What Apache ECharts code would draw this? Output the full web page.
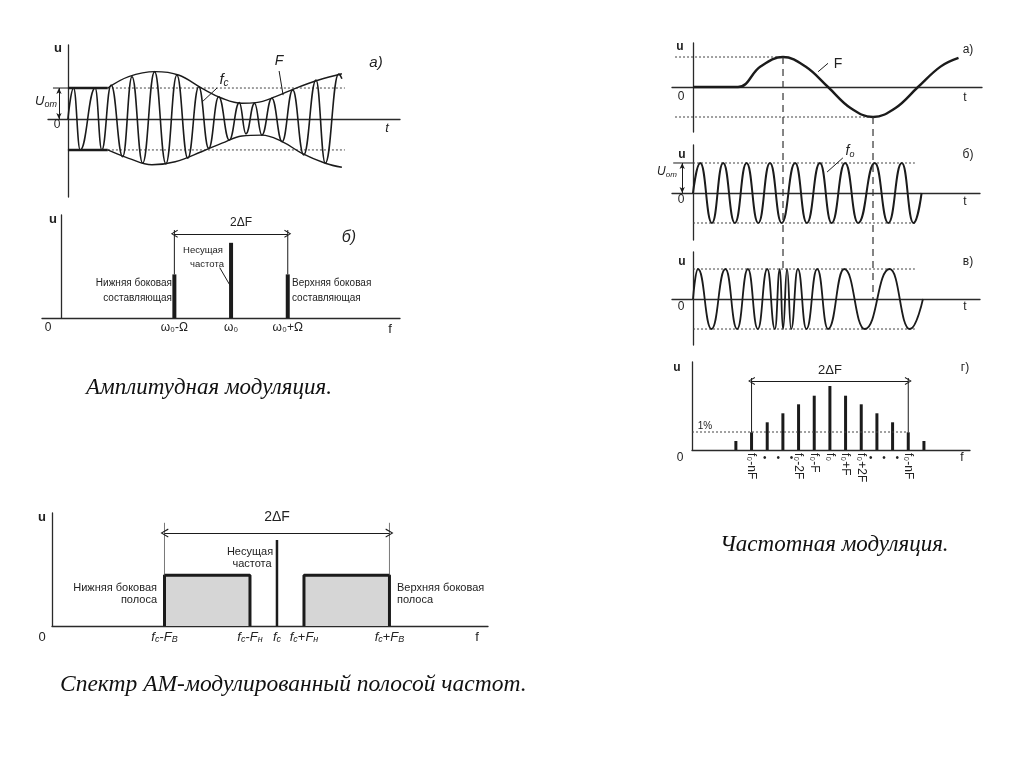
<!DOCTYPE html>
<html><head><meta charset="utf-8">
<script src="https://cdn.jsdelivr.net/npm/echarts@6/dist/echarts.min.js"></script>
<style>html,body{margin:0;padding:0;background:#fff}#c{width:1024px;height:767px}</style>
</head><body><div id="c"></div>
<script>
// ================= DATA =================
// --- Panel "а)" amplitude modulation, time domain: carrier extrema [t, u]
const amCarrier = [[0,0],[0.17,1.0],[0.37,-1.0],[0.82,1.0],[1.02,-1.0],[1.30,1.10],[1.65,-1.22],[1.93,1.37],[2.25,-1.43],[2.61,1.53],[2.95,-1.45],[3.28,1.42],[3.61,-1.27],[3.94,1.04],[4.24,-0.95],[4.54,0.72],[4.86,-0.68],[5.16,0.53],[5.36,-0.48],[5.62,0.51],[5.84,-0.52],[6.14,0.67],[6.45,-0.73],[6.77,0.94],[7.10,-1.16],[7.47,1.26],[7.75,-1.43],[8.15,1.45],[8.25,1.3]];
const amEnvUpper = [[1.2,1.0],[1.83,1.37],[2.63,1.53],[3.33,1.42],[4.04,0.99],[4.64,0.67],[5.24,0.51],[5.66,0.53],[6.25,0.72],[6.85,0.99],[7.55,1.26],[8.25,1.46]];
const amEnvLower = [[1.2,-1.0],[1.83,-1.27],[2.53,-1.48],[3.23,-1.38],[4.04,-1.05],[4.64,-0.78],[5.24,-0.55],[5.84,-0.52],[6.45,-0.73],[7.05,-1.11],[7.75,-1.43],[8.25,-1.56]];
const amModStart = 1.2;      // t where modulation begins
const amUom = 1.0;           // unmodulated amplitude
const amRefEnd = 8.34;       // end of dotted reference lines

// --- Panel "б)" AM spectrum
const amSpecFreq = [2, 3, 4];
const amSpecLabels = ['ω₀-Ω', 'ω₀', 'ω₀+Ω'];
const amSpecAmp = [0.58, 1.0, 0.58];
const amSpecGuideTop = 1.17, amSpecArrowLevel = 1.12;

// --- Band spectrum
const bandFc = 10, bandFB = 5, bandFn = 1.2;
const bandLevel = 0.59, bandCarrier = 1.0;
const bandGuideTop = 1.2, bandArrowLevel = 1.08;
const bandTickLabels = ['{i|f}{s|c}-{i|F}{s|B}', '{i|f}{s|c}-{i|F}{s|н}', '{i|f}{s|c}', '{i|f}{s|c}+{i|F}{s|н}', '{i|f}{s|c}+{i|F}{s|B}'];

// --- FM panel "а)": modulating signal F [t, u]
const fmMod = [[0,0],[1,0],[1.5,0.68],[2,1],[2.5,0.68],[3,0],[3.5,-0.7],[4,-1],[4.5,-0.7],[5,0],[5.5,0.68],[5.9,0.97]];
// --- FM panel "б)": carrier f0 extrema
const fmCarrier = [[0,0],[0.16,1],[0.42,-1],[0.67,1],[0.93,-1],[1.19,1],[1.45,-1],[1.71,1],[1.97,-1],[2.27,1],[2.53,-1],[2.82,1],[3.08,-1],[3.38,1],[3.67,-1],[4.04,1],[4.34,-1],[4.64,1],[4.90,-1],[5.08,0]];
// --- FM panel "в)": frequency-modulated signal extrema
const fmSignal = [[0,0],[0.11,1],[0.41,-1],[0.72,1],[0.98,-1],[1.22,1],[1.44,-1],[1.65,1],[1.82,-1],[1.93,1],[2.0,-1],[2.09,1],[2.18,-1],[2.33,1],[2.52,-1],[2.76,1],[3.0,-1],[3.36,1],[3.82,-1],[4.37,1],[4.82,-1],[5.11,0]];
const fmRefEnd = 4.93;
const fmDashLinks = [{t: 2, fromU: 1, toU: 1}, {t: 4, fromU: -1, toU: 0}];

// --- FM panel "г)": spectrum
const fmF0 = 8.8, fmF = 1;
const fmSpecOrders = [-6,-5,-4,-3,-2,-1,0,1,2,3,4,5,6];
const fmSpecAmp = [0.9,1.77,2.77,3.67,4.57,5.43,6.4,5.43,4.57,3.67,2.77,1.77,0.9];
const fmSpecTickOrders = [-5,-2,-1,0,1,2,5];
const fmSpecTickLabels = ['f₀-nF','f₀-2F','f₀-F','f₀','f₀+F','f₀+2F','f₀-nF'];
const fmSpecDotOrders = [-4.15,-3.3,-2.45,2.6,3.45,4.3];
const fmOnePercent = 1.8, fmGuideTop = 7.2, fmArrowLevel = 6.9;

// ================= CHART =================
const C = '#1b1b1b';
const AX = '#2a2a2a';
const SANS = '"Liberation Sans", Arial, "DejaVu Sans", sans-serif';
const SERIF = '"Liberation Serif", "DejaVu Serif", serif';
const arrowHead = 'path://M0,10 L5,0 L10,10 L8.8,10.6 L5,2.6 L1.2,10.6 Z';

const grids = [
  {left:48, top:45, width:352, height:152},   // 0 AM time
  {left:42, top:215, width:358, height:103},  // 1 AM spectrum
  {left:52, top:513, width:436, height:113},  // 2 band spectrum
  {left:672, top:43, width:310, height:89},   // 3 FM a
  {left:672, top:145, width:308, height:95},  // 4 FM б
  {left:672, top:252, width:308, height:93},  // 5 FM в
  {left:692, top:362, width:278, height:88}   // 6 FM г
];
const xr = [[-0.6,10.0],[-0.335,5.98],[0,19.38],[-0.467,6.422],[-0.467,6.378],[-0.467,6.378],[0,17.74]];
const yr = [[-2.52,2.39],[0,1.37],[0,1.314],[-1.5,1.467],[-1.567,1.6],[-1.533,1.567],[0,8.8]];

function baseAxis(gi, r) {
  return {gridIndex: gi, type: 'value', min: r[0], max: r[1],
    axisLine: {show: true, onZero: true, lineStyle: {color: AX, width: 1.3}},
    axisTick: {show: false}, axisLabel: {show: false}, splitLine: {show: false}};
}
const xAxes = xr.map((r, i) => baseAxis(i, r));
const yAxes = yr.map((r, i) => baseAxis(i, r));

function nearestIdx(arr, v) { let k = 0, d = 1e9; arr.forEach((t, i) => { if (Math.abs(t - v) < d) { d = Math.abs(t - v); k = i; } }); return k; }

// custom tick labels
xAxes[1].axisLabel = {show: true, customValues: amSpecFreq, margin: 4, color: '#222', fontFamily: SANS, fontSize: 12,
  formatter: v => amSpecLabels[nearestIdx(amSpecFreq, v)]};
const bandTickValues = [bandFc - bandFB, bandFc - bandFn, bandFc, bandFc + bandFn, bandFc + bandFB];
xAxes[2].axisLabel = {show: true, customValues: bandTickValues, margin: 4, color: '#222',
  formatter: v => bandTickLabels[nearestIdx(bandTickValues, v)],
  rich: {i: {fontFamily: SANS, fontStyle: 'italic', fontSize: 13, color: '#222'}, s: {fontFamily: SANS, fontStyle: 'italic', fontSize: 9, color: '#222', verticalAlign: 'bottom', padding: [5, 0, 0, 0]}},
  fontFamily: SANS, fontSize: 13};
const fmTickValues = fmSpecTickOrders.map(k => fmF0 + k * fmF);
xAxes[6].axisLabel = {show: true, customValues: fmTickValues, rotate: -90, margin: 3, color: '#222', fontFamily: SANS, fontSize: 12,
  hideOverlap: false, showMinLabel: true, showMaxLabel: true,
  formatter: v => fmSpecTickLabels[nearestIdx(fmTickValues, v)]};
// extra x axis on the FM spectrum grid carrying the "• • •" placeholders
const fmDotValues = fmSpecDotOrders.map(k => fmF0 + k * fmF);
xAxes.push({gridIndex: 6, type: 'value', min: xr[6][0], max: xr[6][1], position: 'bottom',
  axisLine: {show: false, onZero: false}, axisTick: {show: false}, splitLine: {show: false},
  axisLabel: {show: true, customValues: fmDotValues, margin: 3, color: '#222', fontSize: 10, fontFamily: SANS,
    hideOverlap: false, formatter: () => '•'}});

function line(gi, data, o) {
  o = o || {};
  return Object.assign({type: 'line', xAxisIndex: gi, yAxisIndex: gi, data: data, symbol: 'none', silent: true,
    clip: false, lineStyle: Object.assign({color: C, width: 1}, o.ls || {})}, o.extra || {});
}
function dbl(gi, a, b, sym, size, w) {
  return {label: {show: false}, symbol: [sym, sym], symbolSize: size, lineStyle: {color: C, width: w || 1, type: 'solid'},
    data: [[{coord: a}, {coord: b}]]};
}
const dotted = {color: '#444', width: 1, type: [2, 2]};
const series = [];

// ---- Panel 0: AM time domain
series.push(line(0, [[0, amUom], [amRefEnd, amUom]], {ls: dotted}));
series.push(line(0, [[0, -amUom], [amRefEnd, -amUom]], {ls: dotted}));
series.push(line(0, [[0, amUom], [amModStart, amUom]], {ls: {width: 2.6}}));
series.push(line(0, [[0, -amUom], [amModStart, -amUom]], {ls: {width: 2.6}}));
series.push(line(0, amEnvUpper, {ls: {width: 1.4}, extra: {smooth: 0.4}}));
series.push(line(0, amEnvLower, {ls: {width: 1.4}, extra: {smooth: 0.4}}));
series.push(line(0, amCarrier, {ls: {width: 1.6}, extra: {smooth: 0.45, smoothMonotone: 'x'}}));
series.push(line(0, [[-0.45, amUom], [0, amUom]], {ls: {width: 1}, extra: {markLine: dbl(0, [-0.27, 0], [-0.27, amUom], 'arrow', [4, 6], 1)}}));
series.push(line(0, [[4.07, 0.58], [4.49, 1.0]], {ls: {width: 1}}));
series.push(line(0, [[6.48, 0.77], [6.36, 1.55]], {ls: {width: 1}}));

// ---- Panel 1: AM spectrum
series.push({type: 'bar', xAxisIndex: 1, yAxisIndex: 1, silent: true, barWidth: 4,
  data: amSpecFreq.map((f, i) => [f, amSpecAmp[i]]), itemStyle: {color: C}});
series.push(line(1, [[amSpecFreq[0], amSpecAmp[0]], [amSpecFreq[0], amSpecGuideTop]], {extra: {markLine: dbl(1, [amSpecFreq[0], amSpecArrowLevel], [amSpecFreq[2], amSpecArrowLevel], arrowHead, [8, 7], 1.2)}}));
series.push(line(1, [[amSpecFreq[2], amSpecAmp[2]], [amSpecFreq[2], amSpecGuideTop]]));
series.push(line(1, [[2.80, 0.67], [3.0, 0.41]]));

// ---- Panel 2: band spectrum
const lowBand = [[bandFc - bandFB, 0], [bandFc - bandFB, bandLevel], [bandFc - bandFn, bandLevel], [bandFc - bandFn, 0]];
const upBand = [[bandFc + bandFn, 0], [bandFc + bandFn, bandLevel], [bandFc + bandFB, bandLevel], [bandFc + bandFB, 0]];
series.push(line(2, lowBand, {ls: {width: 3}, extra: {areaStyle: {color: '#d6d6d6', opacity: 1}}}));
series.push(line(2, upBand, {ls: {width: 3}, extra: {areaStyle: {color: '#d6d6d6', opacity: 1}}}));
series.push({type: 'bar', xAxisIndex: 2, yAxisIndex: 2, silent: true, barWidth: 2.5,
  data: [[bandFc, bandCarrier]], itemStyle: {color: C}});
series.push(line(2, [[bandFc - bandFB, bandLevel], [bandFc - bandFB, bandGuideTop]], {ls: {width: 0.8, color: '#555'},
  extra: {markLine: dbl(2, [bandFc - bandFB, bandArrowLevel], [bandFc + bandFB, bandArrowLevel], arrowHead, [9, 8], 1.2)}}));
series.push(line(2, [[bandFc + bandFB, bandLevel], [bandFc + bandFB, bandGuideTop]], {ls: {width: 0.8, color: '#555'}}));

// ---- Panel 3: FM modulating F
series.push(line(3, [[-0.4, 1], [2, 1]], {ls: dotted}));
series.push(line(3, [[-0.4, -1], [4, -1]], {ls: dotted}));
series.push(line(3, fmMod, {ls: {width: 2.4}, extra: {smooth: 0.4}}));
series.push(line(3, [[2.78, 0.51], [3.0, 0.79]]));

// ---- Panel 4: carrier
series.push(line(4, [[0, 1], [fmRefEnd, 1]], {ls: dotted}));
series.push(line(4, [[0, -1], [fmRefEnd, -1]], {ls: dotted}));
series.push(line(4, fmCarrier, {ls: {width: 2}, extra: {smooth: 0.5, smoothMonotone: 'x'}}));
series.push(line(4, [[-0.44, 1], [0, 1]], {extra: {markLine: dbl(4, [-0.24, 0], [-0.24, 1], 'arrow', [4, 6], 1)}}));
series.push(line(4, [[2.98, 0.7], [3.33, 1.17]]));

// ---- Panel 5: FM signal
series.push(line(5, [[0, 1], [fmRefEnd, 1]], {ls: dotted}));
series.push(line(5, [[0, -1], [fmRefEnd, -1]], {ls: dotted}));
series.push(line(5, fmSignal, {ls: {width: 1.8}, extra: {smooth: 0.5, smoothMonotone: 'x'}}));

// ---- Panel 6: FM spectrum
series.push({type: 'bar', xAxisIndex: 6, yAxisIndex: 6, silent: true, barWidth: 3,
  data: fmSpecOrders.map((k, i) => [fmF0 + k * fmF, fmSpecAmp[i]]), itemStyle: {color: C}});
series.push(line(6, [[0, fmOnePercent], [fmF0 + 5 * fmF, fmOnePercent]], {ls: dotted}));
series.push(line(6, [[fmF0 - 5 * fmF, fmSpecAmp[1]], [fmF0 - 5 * fmF, fmGuideTop]], {
  extra: {markLine: dbl(6, [fmF0 - 5 * fmF, fmArrowLevel], [fmF0 + 5 * fmF, fmArrowLevel], arrowHead, [8, 7], 1.2)}}));
series.push(line(6, [[fmF0 + 5 * fmF, fmSpecAmp[11]], [fmF0 + 5 * fmF, fmGuideTop]]));

// ---- texts
function T(x, y, text, size, o) {
  o = o || {};
  return {type: 'text', x: x, y: y, silent: true, z: 100,
    style: Object.assign({text: text, fontFamily: o.ff || SANS, fontSize: size, fontStyle: o.it ? 'italic' : 'normal',
      fontWeight: o.b ? 'bold' : 'normal', fill: o.c || '#222', align: o.al || 'center', verticalAlign: 'middle'}, o.st || {})};
}
const subRich = (s1, s2) => ({rich: {i: {fontFamily: SANS, fontStyle: 'italic', fontSize: s1, fill: '#222'},
  s: {fontFamily: SANS, fontStyle: 'italic', fontSize: s2, fill: '#222', verticalAlign: 'bottom', padding: [6, 0, 0, 0]}}});
const texts = [
  // panel A
  T(58, 48, 'u', 13, {b: true}), T(57, 125, '0', 12), T(387, 128, 't', 13, {it: true}),
  T(376, 63, 'а)', 15, {it: true}), T(279, 61, 'F', 14, {it: true}),
  T(224, 80, '{i|f}{s|c}', 14, {st: subRich(15, 10)}),
  T(46, 101, '{i|U}{s|om}', 13, {st: subRich(13, 9)}),
  // panel B
  T(53, 219, 'u', 13, {b: true}), T(48, 328, '0', 12), T(390, 329, 'f', 13),
  T(349, 238, 'б)', 16, {it: true}), T(241, 223, '2ΔF', 12),
  T(203, 250, 'Несущая', 9.5), T(207, 264, 'частота', 9.5),
  T(172, 283, 'Нижняя боковая', 10, {al: 'right'}), T(172, 298, 'составляющая', 10, {al: 'right'}),
  T(292, 283, 'Верхняя боковая', 10, {al: 'left'}), T(292, 298, 'составляющая', 10, {al: 'left'}),
  // panel C
  T(42, 517, 'u', 13, {b: true}), T(42, 637, '0', 13), T(477, 637, 'f', 13),
  T(277, 517, '2ΔF', 14), T(250, 552, 'Несущая', 11), T(252, 564, 'частота', 11),
  T(157, 588, 'Нижняя боковая', 11, {al: 'right'}), T(157, 600, 'полоса', 11, {al: 'right'}),
  T(397, 588, 'Верхняя боковая', 11, {al: 'left'}), T(397, 600, 'полоса', 11, {al: 'left'}),
  // right a
  T(680, 47, 'u', 12, {b: true}), T(681, 97, '0', 12), T(965, 98, 't', 12), T(968, 50, 'а)', 12), T(838, 64, 'F', 14),
  // right б
  T(682, 155, 'u', 12, {b: true}), T(681, 200, '0', 12), T(965, 202, 't', 12), T(968, 155, 'б)', 12),
  T(667, 172, '{i|U}{s|om}', 12, {st: subRich(12, 8)}), T(850, 151, '{i|f}{s|o}', 13, {st: subRich(14, 9)}),
  // right в
  T(682, 262, 'u', 12, {b: true}), T(681, 307, '0', 12), T(965, 307, 't', 12), T(968, 262, 'в)', 12),
  // right г
  T(677, 368, 'u', 12, {b: true}), T(680, 458, '0', 12), T(962, 458, 'f', 12), T(965, 368, 'г)', 12),
  T(830, 370, '2ΔF', 13), T(705, 426, '1%', 10),
  // captions
  T(86, 388, 'Амплитудная модуляция.', 23, {ff: SERIF, it: true, al: 'left', c: '#111'}),
  T(60, 685, 'Спектр АМ-модулированный полосой частот.', 23.5, {ff: SERIF, it: true, al: 'left', c: '#111'}),
  T(720, 545, 'Частотная модуляция.', 23, {ff: SERIF, it: true, al: 'left', c: '#111'})
];

const chart = echarts.init(document.getElementById('c'), null, {renderer: 'canvas'});
chart.setOption({
  animation: false, backgroundColor: '#fff',
  grid: grids, xAxis: xAxes, yAxis: yAxes, series: series, graphic: texts
});
// dashed connectors across FM panels, positioned through the axes' scales
const links = fmDashLinks.map(l => {
  const a = chart.convertToPixel({xAxisIndex: 3, yAxisIndex: 3}, [l.t, l.fromU]);
  const b = chart.convertToPixel({xAxisIndex: 5, yAxisIndex: 5}, [l.t, l.toU]);
  return {type: 'line', silent: true, z: 50, shape: {x1: a[0], y1: a[1], x2: b[0], y2: b[1]},
    style: {stroke: '#333', lineWidth: 1.2, lineDash: [7, 5]}};
});
chart.setOption({graphic: texts.concat(links)});
</script></body></html>
